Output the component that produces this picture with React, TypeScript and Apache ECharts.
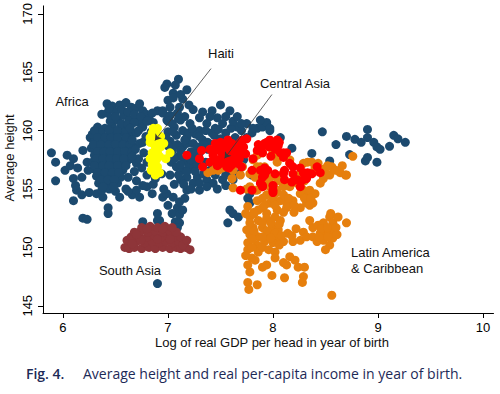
import React, { useEffect, useRef } from "react";
import * as echarts from "echarts";

const xTicks = [6, 7, 8, 9, 10];
const yTicks = [145, 150, 155, 160, 165, 170];

const africaEtc: number[][] = [
  [5.89,158.1],[5.93,157.3],[5.93,155.7],[6.02,156.6],[6.04,157.9],[6.1,157.6],[6.1,155.9],[6.13,154.9],[6.18,156.0],[6.19,158.3],[6.23,157.3],[6.24,156.6],[6.26,159.4],[6.3,159.2],[6.32,154.6],[6.19,152.5],[6.23,152.4],[6.1,154.0],[6.18,154.5],[6.07,157.0],[6.14,156.8],
  [6.38,154.3],[6.43,153.4],[6.43,152.9],[6.54,154.3],[6.66,154.5],[6.73,154.3],[6.85,154.6],[6.76,152.2],[6.9,152.3],[6.6,155.0],[6.8,155.2],[6.25,154.7],[6.12,155.3],
  [6.33,160.3],[6.4,160.2],[6.47,160.4],[6.55,160.3],
  [6.28,159.7],[6.36,159.8],[6.44,159.6],[6.5,159.7],[6.58,159.8],[6.64,159.6],
  [6.3,159.0],[6.37,159.1],[6.42,159.2],[6.48,159.0],[6.55,159.1],[6.62,159.2],
  [6.27,158.5],[6.33,158.6],[6.4,158.4],[6.46,158.5],[6.52,158.6],[6.6,158.4],[6.68,158.6],
  [6.3,157.9],[6.36,158.0],[6.42,157.8],[6.48,157.9],[6.56,158.0],[6.63,157.8],
  [6.28,157.3],[6.35,157.2],[6.41,157.4],[6.47,157.3],[6.54,157.2],[6.61,157.4],[6.7,157.2],
  [6.3,156.7],[6.36,156.6],[6.43,156.8],[6.49,156.7],[6.57,156.6],
  [6.32,156.1],[6.38,156.0],[6.44,156.2],[6.5,156.1],[6.55,156.0],
  [6.34,155.5],[6.4,155.4],[6.46,155.6],[6.52,155.5],
  [6.37,154.9],[6.44,155.0],[6.5,154.8],
  [6.3,160.0],[6.44,160.0],[6.52,160.0],[6.6,160.0],
  [6.33,159.4],[6.4,159.4],[6.46,159.4],[6.52,159.4],[6.6,159.4],
  [6.29,158.8],[6.36,158.8],[6.44,158.8],[6.5,158.8],[6.57,158.8],[6.64,158.8],
  [6.33,158.2],[6.39,158.2],[6.45,158.2],[6.52,158.2],[6.59,158.2],[6.66,158.2],
  [6.32,157.6],[6.38,157.6],[6.45,157.6],[6.51,157.6],[6.58,157.6],[6.66,157.6],
  [6.3,157.0],[6.38,157.0],[6.44,157.0],[6.52,157.0],[6.6,157.0],
  [6.33,156.4],[6.4,156.4],[6.47,156.4],[6.53,156.4],
  [6.36,155.8],[6.43,155.8],[6.49,155.8],
  [6.38,155.2],[6.48,155.2],
  [6.42,162.3],[6.47,162.1],[6.5,161.6],[6.54,162.2],[6.6,162.4],[6.65,162.0],[6.69,161.9],[6.73,162.3],[6.76,161.7],[6.79,161.4],[6.42,161.5],[6.45,160.8],[6.52,160.9],[6.58,161.3],[6.63,160.9],[6.7,161.2],[6.74,160.6],[6.82,161.0],[6.86,160.7],[6.46,161.1],[6.9,161.7],[6.37,161.4],
  [6.44,161.9],[6.56,161.8],[6.62,161.6],[6.68,161.4],[6.74,161.2],[6.5,161.2],[6.56,160.6],[6.62,160.5],[6.68,160.7],[6.85,161.5],[6.95,161.7],[6.99,160.9],
  [6.64,160.2],[6.7,159.8],[6.76,160.3],[6.66,159.2],[6.73,158.9],[6.79,159.5],[6.69,158.4],[6.77,158.1],[6.72,157.6],[6.8,157.3],[6.66,157.8],[6.75,156.8],[6.68,156.5],[6.8,156.2],[6.62,156.0],[6.84,159.9],[6.8,160.8],
  [6.7,155.7],[6.88,155.9],[6.94,156.3],[6.95,154.3],[6.7,154.9],[6.76,159.0],[6.72,160.0],
  [6.99,164.0],[7.1,164.4],[6.97,163.7],[7.07,163.9],[7.18,163.5],[7.05,163.2],[7.0,162.6],[7.11,162.0],[7.02,162.0],[6.95,161.5],[7.09,161.5],[7.05,162.8],[7.14,162.7],[7.12,163.1],[7.02,161.3],
  [7.5,162.2],[7.59,161.7],[7.42,161.7],[7.33,161.6],[7.3,161.1],[7.37,160.6],[7.47,161.1],[7.52,160.6],[7.42,159.8],[7.3,160.0],[7.21,160.6],[7.18,159.4],[7.14,158.6],[7.24,158.9],[7.33,159.2],[7.24,156.9],[7.18,156.0],[7.28,156.0],[7.37,155.8],[7.43,155.5],[7.52,155.8],[7.3,154.9],[7.18,154.9],[7.59,156.3],[7.7,160.0],[7.75,160.6],[7.8,159.8],[7.85,160.2],[7.9,160.3],[7.97,160.0],[7.94,160.7],[7.88,160.9],[7.66,160.3],[7.64,159.4],[7.75,159.4],
  [7.0,160.8],[7.06,160.3],[7.12,160.9],[7.0,159.9],[7.08,159.6],[7.14,160.0],[7.02,159.1],[7.09,158.8],[7.04,158.3],[7.1,157.8],[7.16,157.5],[7.03,157.3],[7.08,156.9],[7.14,156.6],[7.2,157.0],[7.26,157.5],[7.22,158.2],[7.28,158.6],[7.26,159.7],[7.36,160.0],[7.38,158.4],[7.4,156.6],[7.34,156.3],[7.24,155.5],[7.36,157.3],[7.02,156.2],[7.12,155.8],[7.06,155.4],[7.18,158.9],
  [7.26,158.0],[7.38,159.0],[7.44,159.6],[7.55,159.8],[7.6,160.2],[7.5,159.3],[7.62,156.6],[7.55,156.2],[7.45,156.2],[7.68,156.3],[7.72,157.5],[7.16,161.2],[7.24,161.8],[7.2,162.2],
  [6.98,159.4],[7.05,159.9],[7.04,160.6],[7.1,161.0],[7.06,158.7],[7.12,158.3],[7.0,158.7],[7.16,159.2],[7.2,159.8],[7.23,160.2],[7.3,159.5],[7.34,158.8],[7.3,158.1],[7.22,157.5],[7.28,157.1],[7.06,157.6],[7.12,157.1],[7.18,156.5],[7.26,156.5],[7.1,156.2],[7.15,155.4],[7.22,155.0],[7.3,155.5],[7.45,160.2],[7.4,161.2],[7.55,161.2],[7.48,160.1],[7.62,160.8],[7.66,161.2],[7.7,160.6],
  [6.99,154.6],[7.05,154.3],[7.0,153.6],[7.09,153.4],[7.11,153.9],[7.04,152.9],[7.11,152.8],[7.07,152.2],[7.11,152.1],[7.09,151.7],[7.14,153.2],[6.92,152.3],[6.9,152.9],[7.16,154.2],[6.96,155.0],[6.86,155.4],[6.76,155.3],[6.62,154.8],
  [6.9,146.9],
  [7.37,155.2],[7.62,155.8],[7.59,153.2],[7.62,152.9],[7.67,152.6],[7.57,152.1],[7.76,154.2],[7.78,153.8],[7.8,156.2],[7.78,154.6],[7.55,155.3],[7.47,155.0],
  [8.47,159.9],[8.6,158.8],[8.7,159.5],[8.78,159.25],[8.84,159.0],[8.9,160.1],[8.9,159.4],[8.96,159.0],[8.99,158.6],[9.02,158.4],[8.99,157.3],[9.11,158.65],[9.15,159.6],[9.19,159.3],[9.26,159.0],[8.37,158.05],[8.54,157.4],[8.73,157.95],[8.88,157.4],[8.9,157.7],[8.18,158.5],[8.07,159.4],[7.97,160.2],[7.81,160.2]
];

const latinAmerica: number[][] = [
  [7.38,156.4],[7.43,156.6],[7.48,156.6],[7.52,156.8],[7.57,157.0],[7.62,156.6],[7.71,156.9],[7.61,155.9],[7.62,155.1],
  [7.81,157.5],[7.85,157.9],[7.9,158.1],[8.0,158.1],[8.04,157.3],[7.88,156.9],[7.92,156.3],[7.83,156.0],[7.78,155.2],[7.85,154.9],[7.97,155.2],[8.04,154.9],[8.1,155.3],[8.16,155.2],[8.23,155.6],[8.29,154.9],[8.33,157.3],[8.16,157.2],[8.16,157.5],[8.29,157.2],[8.37,157.3],[8.4,156.8],[8.43,157.2],[8.56,156.9],[8.66,157.0],[8.76,157.8],[8.64,156.4],[8.69,156.2],[8.54,156.2],[8.48,155.9],[8.07,155.8],[8.26,155.2],[8.33,154.7],[8.37,154.5],[7.92,156.9],[7.85,156.9],[8.04,157.9],
  [7.69,156.2],[7.78,156.3],[7.88,156.4],[8.02,156.2],[8.1,156.4],[8.26,156.3],[8.38,156.4],[8.51,156.3],[8.7,156.2],
  [8.48,156.7],[8.6,156.6],[8.52,157.0],[8.45,155.5],
  [7.83,154.9],[7.9,155.2],[8.0,155.3],[8.1,155.2],[8.16,155.3],[8.23,155.5],[8.35,154.9],[8.4,154.6],[8.26,154.6],[8.19,154.0],[8.13,153.8],[8.07,154.0],[7.97,153.8],[7.9,153.4],[7.85,154.0],[7.86,153.2],[8.32,153.8],[8.38,153.8],[8.26,153.4],[8.13,153.4],[8.04,153.2],[7.94,152.9],[8.02,154.6],[8.1,154.5],[7.94,154.5],[7.9,155.8],[7.97,155.9],
  [7.95,155.7],[8.05,155.7],[8.2,155.7],[8.3,155.7],[7.9,154.2],[8.0,154.2],[8.15,154.2],[8.3,154.2],[8.36,154.2],[7.92,153.6],[8.02,153.6],[8.2,153.6],[8.35,153.6],[7.82,153.0],[8.1,153.0],[8.2,153.0],
  [7.78,152.6],[7.86,152.3],[7.94,152.5],[8.02,152.6],[8.07,152.3],[7.81,151.7],[7.9,151.7],[7.99,151.7],[8.05,151.5],[7.78,151.1],[7.86,150.9],[7.95,151.1],[8.04,150.8],[7.76,150.4],[7.85,150.2],[7.92,150.5],[8.0,150.4],[8.1,150.5],[7.76,149.8],[7.86,149.6],[8.14,151.2],[8.19,150.5],[8.26,150.6],[8.29,151.3],[8.32,150.9],[7.78,152.1],[7.75,151.5],
  [7.82,152.9],[7.9,152.1],[7.98,152.1],[8.06,152.0],[7.82,151.4],[7.94,151.4],[8.02,151.2],[7.8,150.7],[7.9,150.9],[7.98,150.8],[8.06,150.2],[7.8,150.0],[7.9,150.0],[7.96,149.8],[8.08,151.0],[8.18,151.0],[8.22,151.6],
  [8.38,151.7],[8.43,151.9],[8.48,152.1],[8.54,152.6],[8.57,152.1],[8.56,151.3],[8.51,151.1],[8.45,151.2],[8.38,150.9],[8.42,150.5],[8.48,150.6],[8.57,150.8],[8.54,150.2],[8.5,149.8],[8.7,152.1],[8.35,152.3],[8.61,151.1],
  [8.46,151.6],[8.52,151.7],[8.6,151.7],[8.44,150.9],[8.52,150.9],[8.55,152.9],[8.62,152.6],
  [7.8,149.1],[7.83,148.9],[7.78,147.9],[7.76,147.0],[7.85,146.8],[7.9,148.3],[7.94,148.5],[7.99,147.6],[8.02,149.6],[8.02,149.1],[8.1,148.7],[8.13,148.5],[8.16,149.2],[8.21,148.9],[8.24,148.3],[8.3,148.3],[8.29,147.5],[8.28,147.0],[8.11,147.4],[8.56,145.9],
  [7.75,155.0],[7.76,153.5],[7.74,152.9],[7.76,148.5],[7.74,149.3],[7.77,146.4]
];

const centralAsia: number[][] = [
  [7.18,157.9],[7.32,158.3],[7.3,157.6],[7.33,156.9],[7.45,158.9],[7.43,157.9],[7.47,157.5],[7.47,157.0],[7.51,158.1],[7.52,157.7],[7.56,157.3],[7.54,158.6],[7.57,159.2],[7.61,158.9],[7.59,158.1],[7.62,157.7],[7.64,157.3],[7.67,158.6],[7.69,159.0],[7.71,159.2],[7.75,159.3],[7.7,158.1],[7.7,156.9],[7.69,154.9],[7.81,157.6],[7.8,156.6],[7.9,158.7],[7.94,159.0],[7.97,159.2],[8.0,158.9],[8.04,159.2],[8.05,158.7],[8.07,158.1],[8.13,158.1],[8.1,157.7],[7.9,158.1],[7.92,156.8],[7.95,156.6],[7.9,156.0],[7.88,155.5],[8.0,155.3],[8.11,156.6],[8.11,155.8],[8.19,156.3],[8.23,155.8],[8.29,156.4],[8.32,155.9],[8.26,155.2],[8.19,156.9],[7.8,154.9],[7.9,155.2],[8.0,154.9],
  [7.85,158.3],[7.92,158.9],[8.1,158.1],[8.16,157.2],[8.26,156.8],[8.33,156.4],[8.42,156.9],[8.45,156.4],[8.37,156.3],[8.29,155.8],[8.18,155.6],[8.1,156.3],[8.02,156.3],[7.92,156.2],[7.88,156.6],[8.0,154.7],[7.9,155.3],
  [7.4,158.4],[7.48,158.5],[7.5,159.0],[7.55,157.8],[7.6,157.0],[7.65,157.9],[7.4,157.3],[7.58,156.8],[7.63,158.3],[7.68,157.6],
  [7.45,158.3],[7.52,158.6],[7.58,158.6],[7.6,157.4],[7.66,157.2],[7.72,158.6],[7.74,158.0],[7.44,157.4],[7.5,157.2],[7.56,156.9],
  [7.96,158.6],[8.02,158.4],[8.06,159.0],[7.98,157.8],[7.86,158.8]
];

const haiti: number[][] = [
  [6.86,160.2],[6.9,160.2],[6.85,159.8],[6.89,159.4],[6.83,159.0],[6.88,158.6],[6.85,158.1],[6.9,158.1],[6.93,158.6],[6.96,158.9],[7.02,158.1],[6.83,157.6],[6.89,157.5],[6.85,157.1],[6.9,156.9],[6.92,156.4],[6.88,156.2],[6.98,157.6],[6.83,159.4],[6.9,159.2],[6.87,157.0],
  [6.86,158.9],[6.88,159.8],[6.86,157.8],[6.92,157.8],[6.84,156.6],[6.93,159.5]
];

const southAsia: number[][] = [
  [6.59,150.0],[6.63,149.9],[6.68,150.0],[6.75,149.9],[6.82,150.0],[6.88,149.9],[6.95,150.0],[7.02,149.9],[7.08,150.0],[7.12,149.9],[7.17,150.0],[7.21,149.8],
  [6.61,150.6],[6.7,150.5],[6.78,150.4],[6.85,150.5],[6.92,150.4],[6.98,150.5],[7.05,150.4],[7.1,150.5],[7.15,150.4],
  [6.65,150.9],[6.72,151.0],[6.8,150.9],[6.87,151.0],[6.94,150.9],[7.0,151.0],[7.06,150.9],[7.12,150.9],
  [6.68,151.3],[6.74,151.4],[6.81,151.3],[6.88,151.4],[6.95,151.3],[7.02,151.4],[7.08,151.3],
  [6.75,151.7],[6.83,151.8],[6.9,151.7],[6.97,151.8],[7.04,151.7],
  [6.66,150.3],[6.74,150.6],[6.9,150.7],[7.02,150.7],[7.14,150.2],[6.8,151.6],[6.95,151.6],[6.7,151.1],[7.18,150.6]
];

const NAVY = "#1c4a6f";
const ORANGE = "#e67f0d";
const RED = "#ff0000";
const YELLOW = "#ffff00";
const MAROON = "#8e3539";

const FONT = "Liberation Sans, Arial, sans-serif";

export default function App() {
  const ref = useRef<HTMLDivElement>(null);
  useEffect(() => {
    if (!ref.current) return;
    const chart = echarts.init(ref.current, null, { renderer: "svg" });
    const sc = (name: string, data: number[][], color: string) => ({
      name,
      type: "scatter",
      data,
      symbol: "circle",
      symbolSize: 9,
      itemStyle: { color, opacity: 1 },
      emphasis: { disabled: true },
      silent: true,
    });
    chart.setOption({
      animation: false,
      backgroundColor: "#fff",
      grid: { left: 43, right: 6.5, top: 5, bottom: 81 },
      xAxis: {
        type: "value",
        min: 5.81,
        max: 10.1,
        axisLine: { show: true, onZero: false, lineStyle: { color: "#000", width: 1 } },
        axisTick: { show: true, length: 5, customValues: xTicks, lineStyle: { color: "#000" } },
        axisLabel: { customValues: xTicks, fontSize: 13, color: "#000", fontFamily: FONT, margin: 8 },
        splitLine: { show: false },
      },
      yAxis: {
        type: "value",
        min: 144.38,
        max: 170.68,
        axisLine: { show: true, onZero: false, lineStyle: { color: "#000", width: 1 } },
        axisTick: { show: true, length: 5, customValues: yTicks, lineStyle: { color: "#000" } },
        axisLabel: { customValues: yTicks, fontSize: 13, color: "#000", fontFamily: FONT, margin: 9, rotate: 90 },
        splitLine: { show: false },
      },
      series: [
        sc("Africa and other", africaEtc, NAVY),
        sc("Latin America & Caribbean", latinAmerica, ORANGE),
        sc("Central Asia", centralAsia, RED),
        sc("Haiti", haiti, YELLOW),
        sc("South Asia", southAsia, MAROON),
        {
          type: "scatter",
          data: [],
          silent: true,
          markLine: {
            silent: true,
            symbol: ["none", "arrow"],
            symbolSize: 6,
            lineStyle: { color: "#3a3a3a", width: 0.8, type: "solid" },
            label: { show: false },
            emphasis: { disabled: true },
            z: 10,
            data: [
              [{ coord: [7.41, 165.31] }, { coord: [6.876, 159.16] }],
              [{ coord: [7.99, 163.09] }, { coord: [7.54, 157.63] }],
            ],
          },
        },
      ],
      graphic: [
        { type: "text", x: 72, y: 101, style: { text: "Africa", font: `13px ${FONT}`, fill: "#111", align: "center", verticalAlign: "middle" } },
        { type: "text", x: 221, y: 53, style: { text: "Haiti", font: `13px ${FONT}`, fill: "#111", align: "center", verticalAlign: "middle" } },
        { type: "text", x: 295, y: 83, style: { text: "Central Asia", font: `13px ${FONT}`, fill: "#111", align: "center", verticalAlign: "middle" } },
        { type: "text", x: 130, y: 270, style: { text: "South Asia", font: `13px ${FONT}`, fill: "#111", align: "center", verticalAlign: "middle" } },
        { type: "text", x: 351, y: 252, style: { text: "Latin America", font: `13px ${FONT}`, fill: "#111", align: "left", verticalAlign: "middle" } },
        { type: "text", x: 351, y: 268, style: { text: "& Caribbean", font: `13px ${FONT}`, fill: "#111", align: "left", verticalAlign: "middle" } },
        { type: "text", x: 272, y: 342, style: { text: "Log of real GDP per head in year of birth", font: `13px ${FONT}`, fill: "#111", align: "center", verticalAlign: "middle" } },
        { type: "text", x: 9, y: 158, rotation: Math.PI / 2, style: { text: "Average height", font: `13px ${FONT}`, fill: "#111", align: "center", verticalAlign: "middle" } },
        { type: "text", x: 26, y: 373, style: { text: "Fig. 4.", font: `600 14px "Open Sans", "Noto Sans", sans-serif`, fill: "#1d2a57", align: "left", verticalAlign: "middle" } },
        { type: "text", x: 83, y: 373, style: { text: "Average height and real per-capita income in year of birth.", font: `14px "Open Sans", "Noto Sans", sans-serif`, fill: "#1d2a57", align: "left", verticalAlign: "middle" } },
      ],
    });
    return () => chart.dispose();
  }, []);
  return (
    <div
      ref={ref}
      style={{ position: "fixed", left: 0, top: 0, width: 500, height: 394, background: "#fff" }}
    />
  );
}
